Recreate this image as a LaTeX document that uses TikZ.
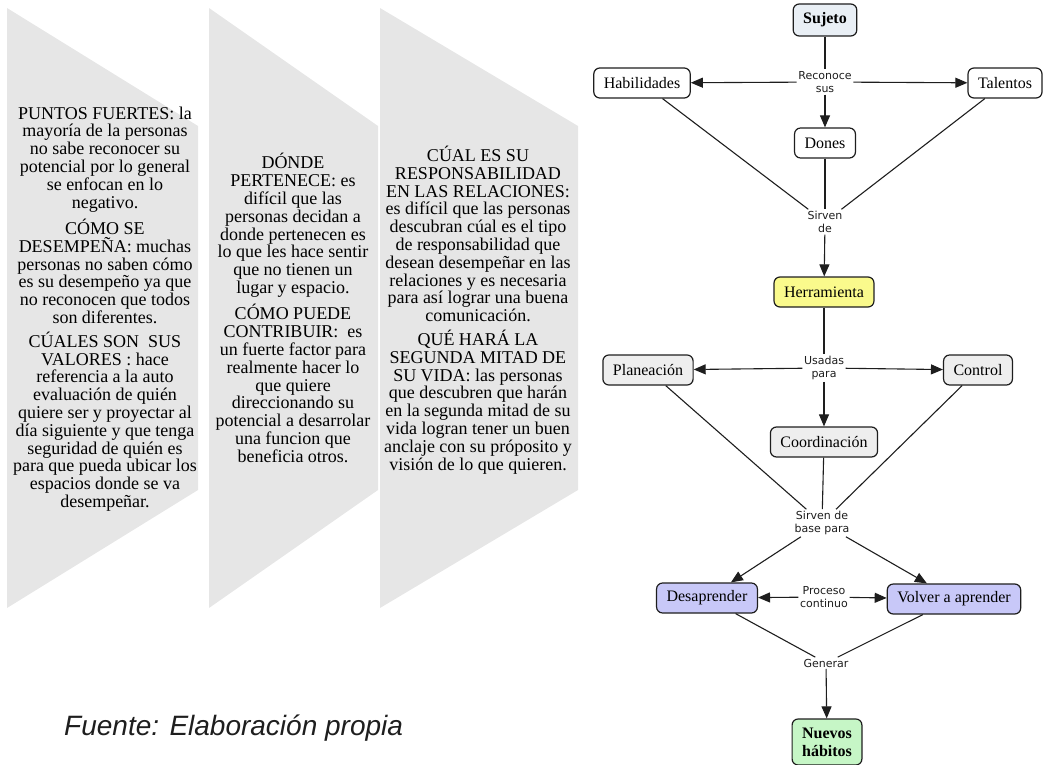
\documentclass[tikz,border=0pt]{standalone}
\usepackage{fontspec}
\setmainfont{Liberation Serif}
\newfontfamily\labelfam{DejaVu Sans}
\newfontfamily\notefam{Liberation Sans}
\usetikzlibrary{arrows.meta}

\definecolor{chevgrey}{HTML}{E6E6E6}
\definecolor{subjfill}{HTML}{E9EFF5}
\definecolor{toolfill}{HTML}{FAFA8C}
\definecolor{usefill}{HTML}{EEEEEE}
\definecolor{learnfill}{HTML}{C8C8F8}
\definecolor{habitfill}{HTML}{C6F6C6}
\definecolor{inkgrey}{HTML}{1E1E1E}

\begin{document}
\begin{tikzpicture}[x=1pt,y=-1pt,
  chev/.style={fill=chevgrey},
  chevtext/.style={align=center, inner sep=0pt, text=black,
    font=\fontsize{18}{17.8}\selectfont},
  concept/.style={draw=inkgrey, line width=1.2pt, rounded corners=6pt,
    minimum height=30pt, inner xsep=10pt, inner ysep=3pt, text=black,
    font=\fontsize{16}{17}\selectfont},
  linkword/.style={fill=white, inner sep=1.5pt, align=center, text=inkgrey,
    font=\labelfam\fontsize{11}{13.5}\selectfont},
  conn/.style={draw=inkgrey, line width=1.1pt},
  arr/.style={conn, -{Triangle[length=12pt,width=10pt]}},
]
\useasboundingbox (0,0) rectangle (1045,765);

% three grey chevrons
\fill[chev] (7,8) -- (198,126) -- (198,490) -- (7,608) -- cycle;
\fill[chev] (209,8) -- (378,126) -- (378,490) -- (209,608) -- cycle;
\fill[chev] (380,8) -- (578,126) -- (578,490) -- (380,608) -- cycle;

\node[chevtext] (t1) at (105,309) {%
PUNTOS FUERTES: la\\
mayoría de la personas\\
no sabe reconocer su\\
potencial por lo general\\
se enfocan en lo\\
negativo.\\[6pt]
CÓMO SE\\
DESEMPEÑA: muchas\\
personas no saben cómo\\
es su desempeño ya que\\
no reconocen que todos\\
son diferentes.\\[6pt]
CÚALES SON\ \ SUS\\
VALORES : hace\\
referencia a la auto\\
evaluación de quién\\
quiere ser y proyectar al\\
día siguiente y que tenga\\
seguridad de quién es\\
para que pueda ubicar los\\
espacios donde se va\\
desempeñar.};

\node[chevtext] (t2) at (293,308) {%
DÓNDE\\
PERTENECE: es\\
difícil que las\\
personas decidan a\\
donde pertenecen es\\
lo que les hace sentir\\
que no tienen un\\
lugar y espacio.\\[6pt]
CÓMO PUEDE\\
CONTRIBUIR:\ \ es\\
un fuerte factor para\\
realmente hacer lo\\
que quiere\\
direccionando su\\
potencial a desarrolar\\
una funcion que\\
beneficia otros.};

\node[chevtext] (t3) at (478,310) {%
CÚAL ES SU\\
RESPONSABILIDAD\\
EN LAS RELACIONES:\\
es difícil que las personas\\
descubran cúal es el tipo\\
de responsabilidad que\\
desean desempeñar en las\\
relaciones y es necesaria\\
para así lograr una buena\\
comunicación.\\[6pt]
QUÉ HARÁ LA\\
SEGUNDA MITAD DE\\
SU VIDA: las personas\\
que descubren que harán\\
en la segunda mitad de su\\
vida logran tener un buen\\
anclaje con su próposito y\\
visión de lo que quieren.};

% concept map
\node[concept, fill=subjfill, minimum height=32pt, font=\bfseries\fontsize{16}{17}\selectfont] (suj) at (825,20) {Sujeto};
\node[concept, fill=white] (hab) at (642,83) {Habilidades};
\node[concept, fill=white] (tal) at (1005,83) {Talentos};
\node[concept, fill=white] (don) at (825,143) {Dones};
\node[concept, fill=toolfill] (her) at (824,292) {Herramienta};
\node[concept, fill=usefill] (pla) at (648,370) {Planeación};
\node[concept, fill=usefill] (con) at (978,370) {Control};
\node[concept, fill=usefill] (coo) at (824,442) {Coordinación};
\node[concept, fill=learnfill] (des) at (707,598) {Desaprender};
\node[concept, fill=learnfill] (vol) at (954,599) {Volver a aprender};
\node[concept, fill=habitfill, align=center, minimum height=46pt, minimum width=69pt,
  font=\bfseries\fontsize{16}{18}\selectfont] (nue) at (827,742) {Nuevos\\hábitos};

\node[linkword] (l1) at (825,82) {Reconoce\\sus};
\node[linkword] (l2) at (825,222) {Sirven\\de};
\node[linkword] (l3) at (824,368) {Usadas\\para};
\node[linkword] (l4) at (822,523) {Sirven de\\base para};
\node[linkword] (l5) at (824,597) {Proceso\\continuo};
\node[linkword] (l6) at (826,663) {Generar};

\draw[conn] (suj) -- (l1);
\draw[arr] (l1) -- (hab);
\draw[arr] (l1) -- (tal);
\draw[arr] (l1) -- (don);
\draw[conn] (hab) -- (l2);
\draw[conn] (tal) -- (l2);
\draw[conn] (don) -- (l2);
\draw[arr] (l2) -- (her);
\draw[conn] (her) -- (l3);
\draw[arr] (l3) -- (pla);
\draw[arr] (l3) -- (con);
\draw[arr] (l3) -- (coo);
\draw[conn] (pla) -- (l4);
\draw[conn] (con) -- (l4);
\draw[conn] (coo) -- (l4);
\draw[arr] (l4) -- (des);
\draw[arr] (l4) -- (vol);
\draw[arr] (l5) -- (des);
\draw[arr] (l5) -- (vol);
\draw[conn] (des) -- (l6);
\draw[conn] (vol) -- (l6);
\draw[arr] (l6) -- (nue);

\node[anchor=west, inner sep=0pt, text=inkgrey,
  font=\notefam\itshape\fontsize{28}{30}\selectfont] (src) at (64,728) {Fuente: Elaboración propia};
\end{tikzpicture}
\end{document}
